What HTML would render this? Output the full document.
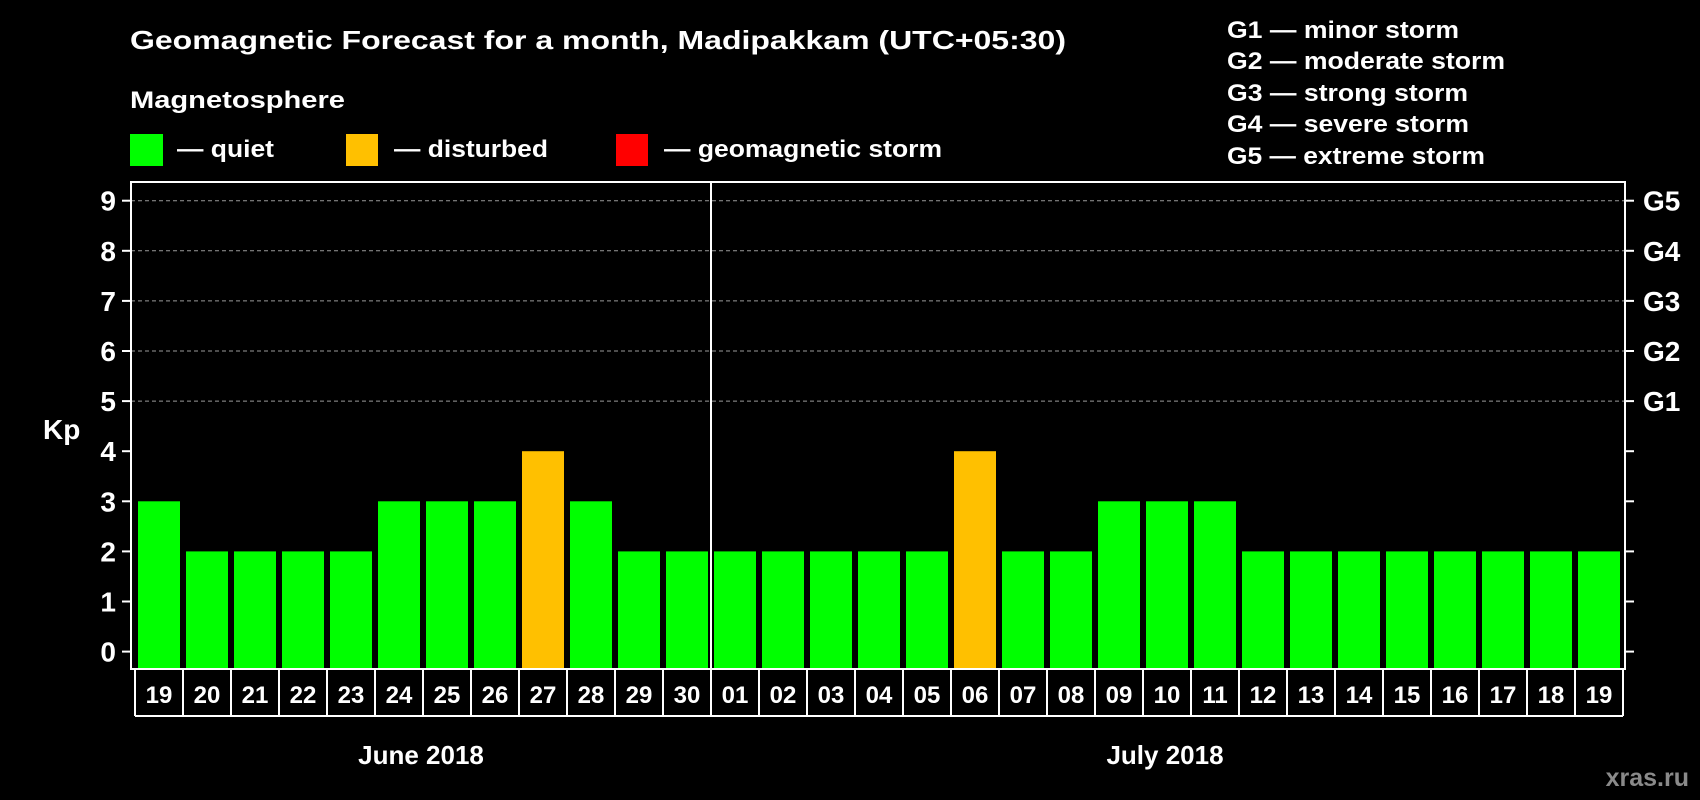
<!DOCTYPE html>
<html><head><meta charset="utf-8"><style>
html,body{margin:0;padding:0;background:#000;}
svg{display:block;font-family:"Liberation Sans",Arial,sans-serif;font-weight:bold;}
</style></head><body>
<svg id="chart" width="1700" height="800" viewBox="0 0 1700 800" xmlns="http://www.w3.org/2000/svg">
<rect x="0" y="0" width="1700" height="800" fill="#000"/>
<text x="130" y="49" fill="#fff" font-size="26" textLength="936" lengthAdjust="spacingAndGlyphs">Geomagnetic Forecast for a month, Madipakkam (UTC+05:30)</text>
<text x="130" y="108" fill="#fff" font-size="24" textLength="215" lengthAdjust="spacingAndGlyphs">Magnetosphere</text>
<g>
<rect x="130" y="134" width="33" height="32" fill="#00ff00"/>
<text x="177" y="157" fill="#fff" font-size="24" textLength="97" lengthAdjust="spacingAndGlyphs">— quiet</text></g>
<g>
<rect x="346" y="134" width="32" height="32" fill="#ffc000"/>
<text x="394" y="157" fill="#fff" font-size="24" textLength="154" lengthAdjust="spacingAndGlyphs">— disturbed</text></g>
<g>
<rect x="616" y="134" width="32" height="32" fill="#ff0000"/>
<text x="664" y="157" fill="#fff" font-size="24" textLength="278" lengthAdjust="spacingAndGlyphs">— geomagnetic storm</text></g>
<g fill="#fff" font-size="24">
<text x="1227" y="38" textLength="232" lengthAdjust="spacingAndGlyphs">G1 — minor storm</text>
<text x="1227" y="69" textLength="278" lengthAdjust="spacingAndGlyphs">G2 — moderate storm</text>
<text x="1227" y="101" textLength="241" lengthAdjust="spacingAndGlyphs">G3 — strong storm</text>
<text x="1227" y="132" textLength="242" lengthAdjust="spacingAndGlyphs">G4 — severe storm</text>
<text x="1227" y="164" textLength="258" lengthAdjust="spacingAndGlyphs">G5 — extreme storm</text>
</g>
<text x="43" y="439" fill="#fff" font-size="28">Kp</text>
<g id="grid"></g><g id="bars"></g><g id="axes"></g>
<text x="421" y="764" fill="#fff" font-size="26" text-anchor="middle">June 2018</text>
<text x="1165" y="764" fill="#fff" font-size="26" text-anchor="middle">July 2018</text>
<text x="1689" y="786" fill="#8a8a8a" font-size="25" text-anchor="end">xras.ru</text>
</svg>
<script>
const days = ["19","20","21","22","23","24","25","26","27","28","29","30","01","02","03","04","05","06","07","08","09","10","11","12","13","14","15","16","17","18","19"];
const kpValues = [3,2,2,2,2,3,3,3,4,3,2,2,2,2,2,2,2,4,2,2,3,3,3,2,2,2,2,2,2,2,2];
const yTicks = [0,1,2,3,4,5,6,7,8,9];
const gLabels = ["G1","G2","G3","G4","G5"];
const gLevels = [5,6,7,8,9];

const NS = "http://www.w3.org/2000/svg";
const plotL = 131, plotR = 1625, plotT = 182, plotB = 669;
const y0 = 651.6, unit = 50.1;
const pitch = 48, firstX = 138, barW = 42;
function yScale(v){ return y0 - v*unit; }
function xScale(i){ return firstX + i*pitch; }
function mk(tag, attrs, parent){ const e=document.createElementNS(NS,tag); for(const k in attrs) e.setAttribute(k,attrs[k]); parent.appendChild(e); return e; }

const grid = document.getElementById('grid');
const bars = document.getElementById('bars');
const axes = document.getElementById('axes');

yTicks.forEach(t=>{
  const y = yScale(t);
  if (t>=5){
    const g = mk('line',{x1:plotL,x2:plotR,y1:y,y2:y,stroke:'#9a9a9a','stroke-width':1,'stroke-dasharray':'4,3'},grid);
    
    
  }
  const tl = mk('line',{x1:plotL-9,x2:plotL,y1:y,y2:y,stroke:'#fff','stroke-width':2},axes);
  
  
  const tr = mk('line',{x1:plotR,x2:plotR+9,y1:y,y2:y,stroke:'#fff','stroke-width':2},axes);
  
  
  const lab = mk('text',{x:116,y:y+10,fill:'#fff','font-size':28,'text-anchor':'end'},axes);
  lab.textContent = t;
  
  
});
gLabels.forEach((g,i)=>{
  const t = mk('text',{x:1643,y:yScale(gLevels[i])+10,fill:'#fff','font-size':28},axes);
  t.textContent = g;
  
  
});

kpValues.forEach((v,i)=>{
  const r = mk('rect',{x:xScale(i),y:yScale(v),width:barW,height:plotB-yScale(v),fill: v>=5?'#ff0000':(v>=4?'#ffc000':'#00ff00')},bars);
  
  
});

// frame
const fr = mk('rect',{x:plotL,y:plotT,width:plotR-plotL,height:plotB-plotT,fill:'none',stroke:'#fff','stroke-width':2},axes);


const div = mk('line',{x1:711,x2:711,y1:plotT,y2:plotB,stroke:'#fff','stroke-width':2},axes);



// day label boxes
const boxT = 669, boxB = 716;
const bl = mk('line',{x1:135,x2:135+pitch*days.length,y1:boxB,y2:boxB,stroke:'#fff','stroke-width':2},axes);


days.forEach((d,i)=>{
  const lx = 135 + i*pitch;
  const vl = mk('line',{x1:lx,x2:lx,y1:boxT,y2:boxB,stroke:'#fff','stroke-width':2},axes);
  
  
  const t = mk('text',{x:lx+pitch/2,y:703,fill:'#fff','font-size':24,'text-anchor':'middle'},axes);
  t.textContent = d;
  
  
});
const lastV = mk('line',{x1:135+pitch*days.length,x2:135+pitch*days.length,y1:boxT,y2:boxB,stroke:'#fff','stroke-width':2},axes);


</script>
</body></html>
